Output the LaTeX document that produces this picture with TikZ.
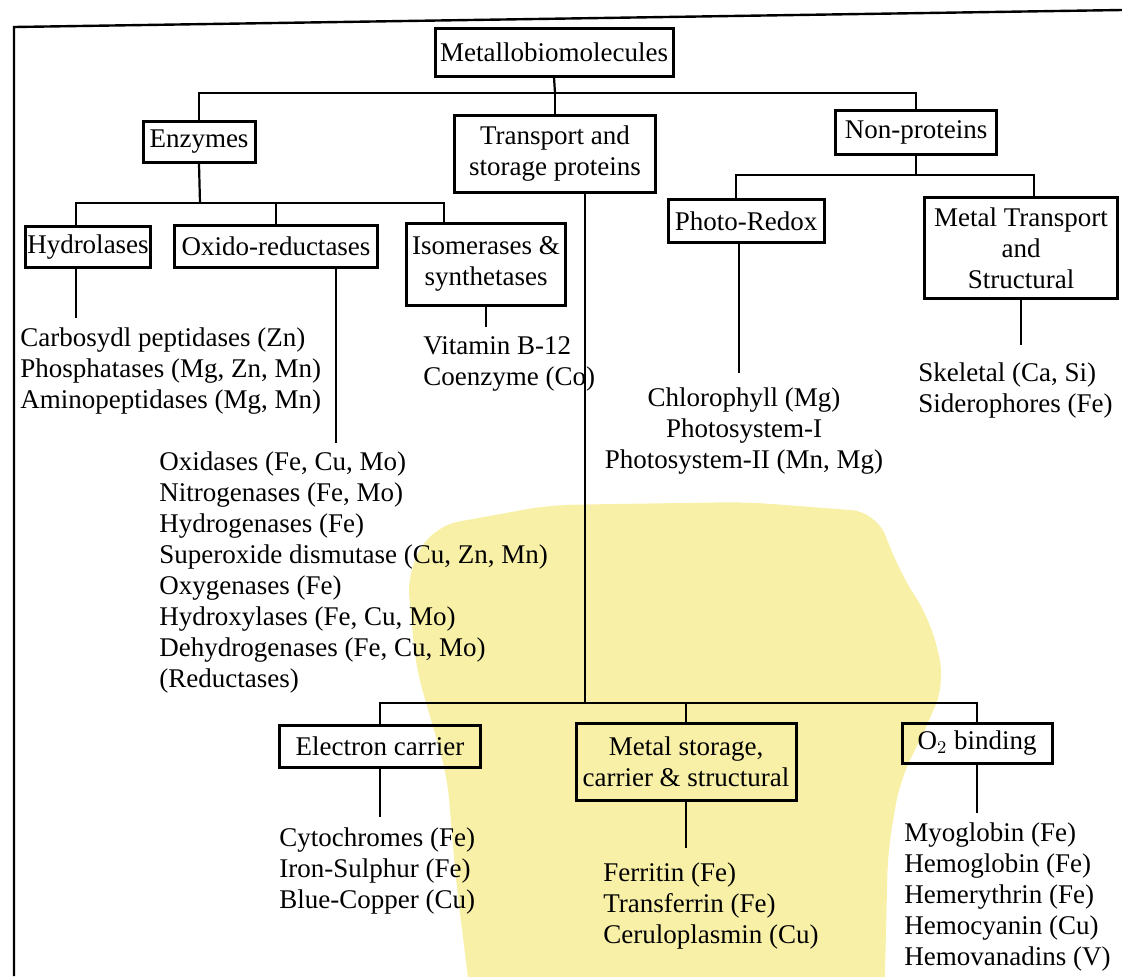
\documentclass[tikz,border=0pt]{standalone}
\usepackage{fontspec}
\setmainfont{Liberation Serif}
\definecolor{hlyellow}{RGB}{249,240,168}

\begin{document}
\begin{tikzpicture}[x=0.5pt, y=-0.5pt,
    every node/.style={font=\fontsize{13.5}{15.5}\selectfont},
    box/.style={draw, line width=1.5pt, inner sep=1pt, align=center},
    item/.style={align=left, anchor=north west, inner sep=0pt},
    conn/.style={line width=1.1pt},
    bar/.style={line width=1.3pt}]
    \useasboundingbox (0,0) rectangle (1122,976);

    % highlighter mark of the scan
    \fill[hlyellow, rounded corners=12pt] (434,526) -- (550,505) -- (746,502) -- (876,512) -- (900,572) -- (930,620) -- (945,680) -- (930,720) -- (900,780) -- (888,850) -- (884,1010) -- (472,1010) -- (456,881) -- (447,775) -- (416,668) -- (407,572) -- cycle;

    % frame
    \draw[line width=1.2pt] (14,976) -- (14,27) -- (1122,10);

    % boxes
    \node[box, minimum width=119pt, minimum height=24pt] (meta) at (554,52) {Metallobiomolecules};
    \node[box, minimum width=56pt, minimum height=20.5pt] (enz) at (199,142) {Enzymes};
    \node[box, minimum width=100.5pt, minimum height=38.5pt] (trans) at (555,154) {Transport and\\storage proteins};
    \node[box, minimum width=80.5pt, minimum height=22pt] (nonp) at (916,132) {Non-proteins};
    \node[box, minimum width=62.5pt, minimum height=20.5pt] (hydro) at (88,247) {Hydrolases};
    \node[box, minimum width=101.5pt, minimum height=21pt] (oxido) at (276,246) {Oxido-reductases};
    \node[box, minimum width=79.5pt, minimum height=41pt] (isom) at (486,264) {Isomerases \&\\synthetases};
    \node[box, minimum width=78pt, minimum height=21.5pt] (photo) at (746,221) {Photo-Redox};
    \node[box, minimum width=96.5pt, minimum height=50.5pt] (metalt) at (1021,248) {Metal Transport\\and\\Structural};
    \node[box, minimum width=100.5pt, minimum height=21pt] (elec) at (380,746) {Electron carrier};
    \node[box, minimum width=110pt, minimum height=38.5pt] (mstor) at (686,762) {Metal storage,\\carrier \& structural};
    \node[box, minimum width=75pt, minimum height=20pt] (otwo) at (977,743) {O$_2$ binding};

    % lists
    \node[item] (carbo) at (20,327) {Carbosydl peptidases (Zn)\\Phosphatases (Mg, Zn, Mn)\\Aminopeptidases (Mg, Mn)};
    \node[item] (oxlist) at (159,451) {Oxidases (Fe, Cu, Mo)\\Nitrogenases (Fe, Mo)\\Hydrogenases (Fe)\\Superoxide dismutase (Cu, Zn, Mn)\\Oxygenases (Fe)\\Hydroxylases (Fe, Cu, Mo)\\Dehydrogenases (Fe, Cu, Mo)\\(Reductases)};
    \node[item] (vitb) at (423,336) {Vitamin B-12\\Coenzyme (Co)};
    \node[item, align=center, anchor=north] (chloro) at (744,387) {Chlorophyll (Mg)\\Photosystem-I\\Photosystem-II (Mn, Mg)};
    \node[item] (skel) at (918,362) {Skeletal (Ca, Si)\\Siderophores (Fe)};
    \node[item] (cyto) at (279,827) {Cytochromes (Fe)\\Iron-Sulphur (Fe)\\Blue-Copper (Cu)};
    \node[item] (ferri) at (603,862) {Ferritin (Fe)\\Transferrin (Fe)\\Ceruloplasmin (Cu)};
    \node[item] (myo) at (904,822) {Myoglobin (Fe)\\Hemoglobin (Fe)\\Hemerythrin (Fe)\\Hemocyanin (Cu)\\Hemovanadins (V)};

    % junctions
    \coordinate (jmeta) at (555,93);
    \coordinate (jenz) at (200,203);
    \coordinate (jnonp) at (916,175);
    \coordinate (jtrans) at (585,703);

    % tree
    \draw[conn] (meta.south) -- (jmeta);
    \draw[bar] (enz.north) |- (jmeta) -| (nonp.north);
    \draw[conn] (jmeta) -- (trans.north);

    \draw[conn] (enz.south) -- (jenz);
    \draw[bar] ([xshift=-6pt]hydro.north) |- (jenz) -| ([xshift=-21pt]isom.north);
    \draw[conn] (jenz -| oxido.north) -- (oxido.north);

    \draw[conn] (nonp.south) -- (jnonp);
    \draw[bar] ([xshift=-5pt]photo.north) |- (jnonp) -| ([xshift=6.5pt]metalt.north);

    \draw[conn] ([xshift=15pt]trans.south) -- (jtrans);
    \draw[bar] (elec.north) |- (jtrans) -| (otwo.north);
    \draw[conn] (jtrans -| mstor.north) -- (mstor.north);

    % leaves
    \draw[conn, shorten >=4.5pt] ([xshift=-6pt]hydro.south) -- ([xshift=-6pt]hydro.south |- carbo.north);
    \draw[conn, shorten >=4pt] ([xshift=30pt]oxido.south) -- ([xshift=30pt]oxido.south |- oxlist.north);
    \draw[conn, shorten >=4.5pt] (isom.south) -- (isom.south |- vitb.north);
    \draw[conn, shorten >=7pt] ([xshift=-3.5pt]photo.south) -- ([xshift=-3.5pt]photo.south |- chloro.north);
    \draw[conn, shorten >=8.5pt] (metalt.south) -- (metalt.south |- skel.north);
    \draw[conn, shorten >=5pt] (elec.south) -- (elec.south |- cyto.north);
    \draw[conn, shorten >=7pt] (mstor.south) -- (mstor.south |- ferri.north);
    \draw[conn, shorten >=4.5pt] (otwo.south) -- (otwo.south |- myo.north);
\end{tikzpicture}
\end{document}
